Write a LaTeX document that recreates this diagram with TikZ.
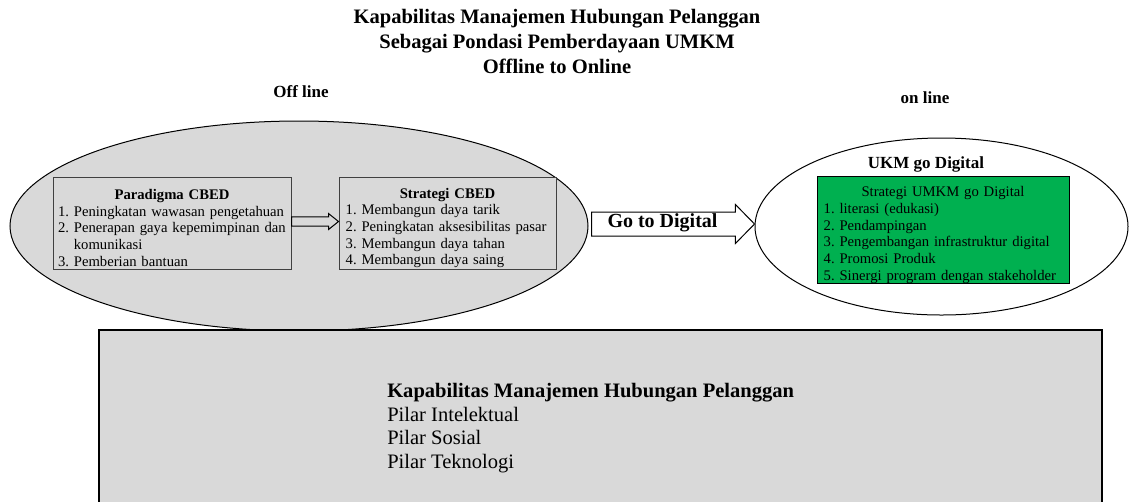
\documentclass[tikz,border=0pt]{standalone}
\usepackage{fontspec}
\setmainfont{Liberation Serif}
\usetikzlibrary{shapes.geometric,calc}
\definecolor{boxgray}{RGB}{217,217,217}
\definecolor{boxedge}{RGB}{64,64,64}
\definecolor{digigreen}{RGB}{0,176,80}
\frenchspacing

\begin{document}
\begin{tikzpicture}[x=0.75pt,y=0.75pt,yscale=-1,xscale=1,
  head/.style={font=\fontsize{15.4}{18.75}\selectfont\bfseries, align=center, inner sep=0pt},
  sidelabel/.style={font=\fontsize{12.75}{15}\selectfont\bfseries, inner sep=0pt},
  zone/.style={ellipse, draw, line width=0.75pt, inner sep=0pt},
  listbox/.style={draw=boxedge, fill=boxgray, line width=0.75pt, inner xsep=5pt, inner ysep=0pt,
    minimum height=69pt, align=left, font=\fontsize{11}{12.5}\selectfont,
    execute at begin node={\rule{0pt}{15pt}}},
  blockarrow/.style n args={3}{draw, line width=0.75pt,
    to path={let \p1=(\tikztostart), \p2=(\tikztotarget) in
      (\x1,\y1+#1) -- (\x2-#3,\y1+#1) -- (\x2-#3,\y1+#2) -- (\x2,\y1)
      -- (\x2-#3,\y1-#2) -- (\x2-#3,\y1-#1) -- (\x1,\y1-#1) -- cycle}}
]
\useasboundingbox (0,0) rectangle (1130,501);

% Text Node
\node[head] (title) at (557,41) {Kapabilitas Manajemen Hubungan Pelanggan\\Sebagai Pondasi Pemberdayaan UMKM\\Offline to Online};
% Text Node
\node[sidelabel] (offlbl) at (301,92) {Off line};
% Text Node
\node[sidelabel] (onlbl) at (925,98) {on line};

%Shape: Ellipse
\node[zone, fill=boxgray, minimum width=433.5pt, minimum height=157.5pt] (offline) at (299,226) {};
%Shape: Ellipse
\node[zone, minimum width=279.75pt, minimum height=132.75pt] (online) at (941.5,226.5) {};

%Shape: Rectangle
\node[listbox, text width=171pt, inner xsep=3.75pt] (para) at (172,223) {{\centering\textbf{Paradigma CBED}\par}
1. Peningkatan wawasan pengetahuan\\
2. Penerapan gaya kepemimpinan dan\\
\phantom{2.} komunikasi\\
3. Pemberian bantuan};
%Shape: Rectangle
\node[listbox, text width=152.75pt] (strat) at (447.5,223) {{\centering\textbf{Strategi CBED}\par}
1. Membangun daya tarik\\
2. Peningkatan aksesibilitas pasar\\
3. Membangun daya tahan\\
4. Membangun daya saing};

% Text Node
\node[sidelabel] (ukmlbl) at (926,164) {UKM go Digital};
%Shape: Rectangle
\node[listbox, draw=black, fill=digigreen, text width=179pt, minimum height=79.5pt] (ukmbox) at (943,230) {{\centering Strategi UMKM go Digital\par}
1. literasi (edukasi)\\
2. Pendampingan\\
3. Pengembangan infrastruktur digital\\
4. Promosi Produk\\
5. Sinergi program dengan stakeholder};

%Block Arrows
\draw[blockarrow={3.4}{6}{7.5}] ($(para.east)+(0,-1.5)$) to (strat.west);
\draw[blockarrow={9}{14.6}{14.3}, fill=white] ($(offline.east)+(3,-2)$) to (online.west);
% Text Node
\node[font=\fontsize{15}{18}\selectfont\bfseries, inner sep=0pt] (godigi) at (662.5,223) {Go to Digital};

%Shape: Rectangle
\node[draw, line width=1.2pt, fill=boxgray, minimum width=752.25pt, minimum height=135pt, inner sep=0pt] (pilar) at (600.5,420) {};
% Text Node
\node[anchor=west, align=left, inner sep=0pt, font=\fontsize{15.4}{17.6}\selectfont] (pilartext) at (387,428) {\textbf{Kapabilitas Manajemen Hubungan Pelanggan}\\
Pilar Intelektual\\
Pilar Sosial\\
Pilar Teknologi};

\end{tikzpicture}
\end{document}
